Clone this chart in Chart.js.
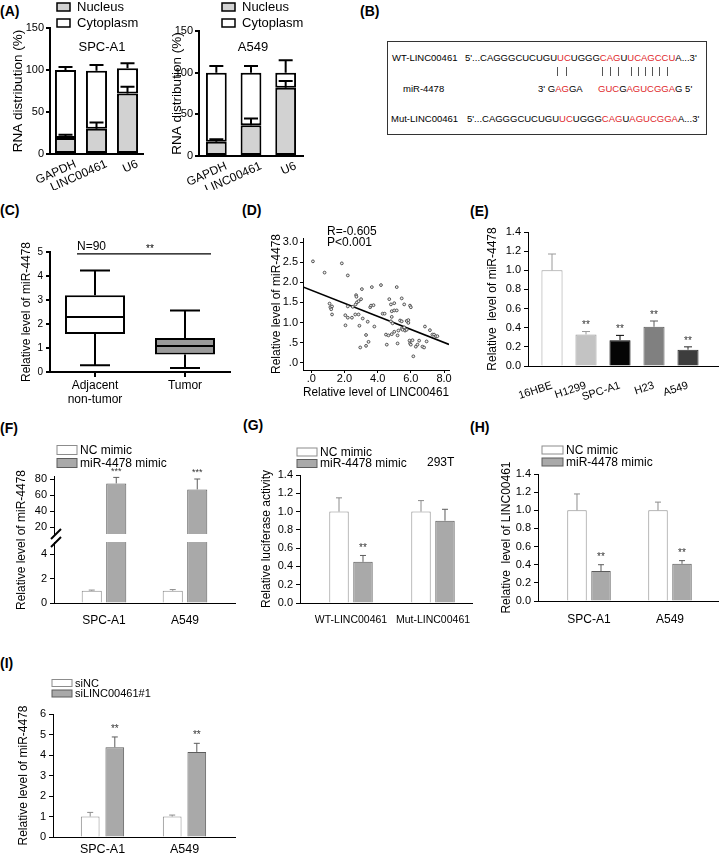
<!DOCTYPE html>
<html>
<head>
<meta charset="utf-8">
<title>LINC00461 / miR-4478</title>
<script src="https://cdn.jsdelivr.net/npm/chart.js@4.4.1/dist/chart.umd.min.js"></script>
<style>
  body { margin: 0; width: 720px; height: 853px; position: relative; overflow: hidden; background: #fff;
         font-family: "Liberation Sans", Arial, sans-serif; color: #000; }
  canvas { position: absolute; }
  .tag { position: absolute; font-size: 14px; font-weight: bold; line-height: 14px; }
  .seq { position: absolute; font-size: 9.5px; line-height: 12px; white-space: nowrap; }
  .pair { position: absolute; width: 1px; height: 9px; top: 67px; background: #555; }
  .r { color: #e0262b; }
  #seqbox { position: absolute; left: 387px; top: 41px; width: 318px; height: 92px; border: 1.5px solid #333; }
</style>
</head>
<body>
<div class="tag" style="left:0;top:4px">(A)</div>
<div class="tag" style="left:360px;top:4px">(B)</div>
<div class="tag" style="left:0;top:203px">(C)</div>
<div class="tag" style="left:242px;top:203px">(D)</div>
<div class="tag" style="left:470px;top:204px">(E)</div>
<div class="tag" style="left:0;top:421px">(F)</div>
<div class="tag" style="left:243px;top:418px">(G)</div>
<div class="tag" style="left:470px;top:420px">(H)</div>
<div class="tag" style="left:0;top:656px">(I)</div>

<div id="seqbox"></div>
<div class="seq" style="left:392px;top:52px">WT-LINC00461</div>
<div class="seq" style="left:465px;top:52px">5'...CAGGGCUCUGU<span class="r">UC</span>UGGG<span class="r">CAG</span>U<span class="r">UCAGCCU</span>A...3'</div>
<div class="seq" style="left:403px;top:83px">miR-4478</div>
<div class="seq" style="left:538px;top:83px">3' G<span class="r">AG</span>GA</div>
<div class="seq" style="left:598px;top:83px"><span class="r">GUC</span>G<span class="r">AGUCGGA</span>G 5'</div>
<div class="seq" style="left:391px;top:113px">Mut-LINC00461</div>
<div class="seq" style="left:467px;top:113px">5'...CAGGGCUCUGU<span class="r">UC</span>UGGG<span class="r">CAG</span>U<span class="r">AGUCGGA</span>A...3'</div>

<script>
// ---------- data ----------
const aGenes = ['GAPDH', 'LINC00461', 'U6'];
const aSpcNucleus = [19, 30, 72];
const aSpcNucleusSd = [4, 7.5, 8];
const aSpcCytoplasm = [81, 69, 30];
const aSpcCytoplasmSd = [3.5, 7, 6];
const aA549Nucleus = [17, 37, 82];
const aA549NucleusSd = [3, 8, 8];
const aA549Cytoplasm = [83, 63, 18];
const aA549CytoplasmSd = [8, 8, 15];
const aTicks = [0, 50, 100, 150];

const cGroups = [['Adjacent', 'non-tumor'], 'Tumor'];
const cLow = [0.28, 0.17];
const cQ1 = [1.58, 0.73];
const cMedian = [2.29, 1.08];
const cQ3 = [3.2, 1.42];
const cHigh = [4.23, 2.56];
const cSigLevel = 4.92;
const cTicks = [0, 1, 2, 3, 4, 5];

const dLinc = [0.1, 0.8, 1.84, 2.2, 3.05, 3.65, 4.2, 5.15, 1.1, 1.15,
  1.2, 1.25, 1.25, 2.05, 2.2, 2.06, 2.45, 2.65, 2.85, 2.67,
  2.7, 2.72, 2.75, 2.85, 3.0, 2.5, 2.2, 2.9, 3.1, 2.95,
  3.3, 3.45, 3.3, 3.4, 3.55, 3.6, 3.75, 3.8, 4.3, 4.42,
  4.5, 4.65, 4.55, 4.7, 4.8, 5.0, 4.85, 5.0, 5.15, 4.85,
  4.8, 4.9, 5.0, 4.85, 5.2, 5.25, 5.2, 5.35, 5.45, 5.45,
  5.5, 5.65, 5.75, 5.6, 5.45, 5.6, 5.75, 5.85, 5.95, 6.0,
  5.85, 5.92, 5.95, 6.0, 6.1, 6.15, 6.3, 6.4, 6.5, 6.7,
  6.8, 6.85, 6.95, 7.15, 7.3, 7.4, 7.5, 7.6];
const dMir = [2.52, 2.24, 2.47, 2.17, 1.83, 1.88, 1.93, 1.88, 1.47, 1.38,
  1.33, 1.4, 1.2, 1.18, 1.12, 0.93, 1.12, 1.2, 1.2, 1.45,
  1.68, 1.64, 1.5, 1.53, 1.58, 1.39, 1.4, 0.92, 1.1, 0.38,
  0.42, 0.52, 0.69, 1.02, 1.38, 1.42, 1.43, 0.9, 1.22, 1.22,
  0.7, 0.68, 0.45, 1.58, 1.45, 1.48, 1.28, 1.3, 1.3, 1.14,
  1.03, 0.98, 0.77, 0.71, 0.68, 0.8, 0.48, 1.05, 1.03, 0.85,
  0.82, 0.8, 0.82, 0.88, 1.6, 1.45, 1.04, 1.06, 1.42, 1.38,
  0.99, 0.55, 0.48, 0.45, 0.56, 0.16, 0.4, 0.45, 0.55, 0.4,
  0.38, 0.9, 0.53, 0.81, 0.7, 0.7, 0.66, 0.66];
const dFitIntercept = 1.80;
const dFitSlope = -0.162;
const dXTicks = [0, 2, 4, 6, 8];
const dYTicks = [0, 0.5, 1, 1.5, 2, 2.5, 3];

const eCells = ['16HBE', 'H1299', 'SPC-A1', 'H23', 'A549'];
const eLevel = [1.0, 0.33, 0.27, 0.41, 0.17];
const eSd = [0.17, 0.03, 0.05, 0.06, 0.03];
const eStars = ['', '**', '**', '**', '**'];

const unitTicks = [0, 0.2, 0.4, 0.6, 0.8, 1.0, 1.2, 1.4];

const fCells = ['SPC-A1', 'A549'];
const fNC = [1.0, 1.0];
const fNCSd = [0.06, 0.1];
const fMimic = [74.5, 67];
const fMimicSd = [7.5, 13];
const fStars = ['***', '***'];
const fLowTicks = [0, 2, 4];
const fHighTicks = [20, 40, 60, 80];

const gReporters = ['WT-LINC00461', 'Mut-LINC00461'];
const gNC = [1.0, 1.0];
const gNCSd = [0.15, 0.12];
const gMimic = [0.45, 0.9];
const gMimicSd = [0.07, 0.125];
const gStars = ['**', ''];

const hCells = ['SPC-A1', 'A549'];
const hNC = [1.0, 1.0];
const hNCSd = [0.18, 0.09];
const hMimic = [0.33, 0.41];
const hMimicSd = [0.07, 0.035];
const hStars = ['**', '**'];

const iCells = ['SPC-A1', 'A549'];
const iNC = [1.0, 1.0];
const iNCSd = [0.2, 0.07];
const iSi = [4.38, 4.15];
const iSiSd = [0.5, 0.42];
const iStars = ['**', '**'];
const iTicks = [0, 1, 2, 3, 4, 5, 6];

// ---------- setup ----------
const FONT = '"Liberation Sans", Arial, Helvetica, sans-serif';
Chart.defaults.font.family = FONT;
Chart.defaults.color = '#000';
Chart.defaults.animation = false;
Chart.defaults.responsive = false;
Chart.defaults.devicePixelRatio = 1;
Chart.defaults.events = [];
Chart.defaults.plugins.legend.display = false;
Chart.defaults.plugins.tooltip.enabled = false;

const WHITE = {fill: '#ffffff', edge: '#8c8c8c'};
const GRAY = {fill: '#a9a9a9', edge: '#5c5c5c'};

// base pairing ticks in panel B
[557, 566, 602, 610, 618, 631, 638, 645, 652, 659, 667].forEach(x => {
  const s = document.createElement('div');
  s.className = 'pair'; s.style.left = x + 'px';
  document.body.appendChild(s);
});

function canvasAt(id, box) {
  const c = document.createElement('canvas');
  c.id = id; c.width = box.w; c.height = box.h;
  c.style.left = box.x + 'px'; c.style.top = box.y + 'px';
  document.body.appendChild(c);
  return c;
}
function offs(chart) {
  return [parseFloat(chart.canvas.style.left), parseFloat(chart.canvas.style.top)];
}
function pad(box, plot) {
  return {left: 0, top: plot.t - box.y, right: box.x + box.w - plot.r, bottom: 0};
}

function yAxis(box, plot, o) {
  const lw = o.lw || 1, tfs = o.tfs || 12;
  return {
    min: o.min, max: o.max,
    afterFit: s => { s.width = plot.l - box.x; s.paddingTop = 0; s.paddingBottom = 0; },
    afterBuildTicks: s => { s.ticks = o.ticks.map(v => ({value: v})); },
    border: {color: '#000', width: lw},
    grid: {drawOnChartArea: false, color: '#000', lineWidth: lw, tickLength: o.tl || 4},
    ticks: {autoSkip: false, font: {size: o.fs || 11}, color: '#000', padding: o.tp == null ? 3 : o.tp,
            callback: o.fmt || (v => v)},
    title: o.title ? {display: true, text: o.title, color: '#000', font: {size: tfs},
                      padding: {top: o.tx - box.x - tfs * 0.6, bottom: 0}} : {display: false}
  };
}

function xCat(box, plot, o) {
  const lw = o.lw || 1;
  return {
    type: 'category', offset: true,
    afterFit: s => { s.height = box.y + box.h - plot.b; s.paddingLeft = 0; s.paddingRight = 0; },
    border: {color: '#000', width: lw},
    grid: o.tick ? {display: true, drawOnChartArea: false, offset: false, color: '#000', lineWidth: lw, tickLength: o.tick}
                 : {display: false},
    ticks: {autoSkip: false, font: {size: o.fs || 12}, color: '#000', padding: o.pad || 0,
            minRotation: o.rot || 0, maxRotation: o.rot || 0, labelOffset: o.lo || 0}
  };
}

function xBars(box, plot, cats, c1, step, o) {
  const min = 1 - (c1 - plot.l) / step;
  return {
    type: 'linear', offset: false, min: min, max: min + (plot.r - plot.l) / step,
    afterBuildTicks: s => { s.ticks = cats.map((c, i) => ({value: i + 1})); },
    afterFit: s => { s.height = box.y + box.h - plot.b; s.paddingLeft = 0; s.paddingRight = 0; },
    border: {color: '#000', width: 1},
    grid: {display: false},
    ticks: {autoSkip: false, font: {size: o.fs || 12}, color: '#000', padding: o.pad || 0,
            minRotation: o.rot || 0, maxRotation: o.rot || 0, callback: (v, i) => cats[i]}
  };
}

function bars(label, values, sd, stars, st, cp, bp) {
  return {label, data: values.map((v, i) => ({x: i + 1, y: v})), errors: sd, stars,
          backgroundColor: st.fill, borderColor: st.edge, borderWidth: 1, borderSkipped: 'start',
          categoryPercentage: cp, barPercentage: bp};
}

// ---------- plugins ----------
function errorBars(o) {
  return {id: 'errorBars', afterDatasetsDraw(chart) {
    const ctx = chart.ctx;
    chart.data.datasets.forEach((ds, di) => {
      if (!ds.errors) return;
      const meta = chart.getDatasetMeta(di);
      const ys = chart.scales[meta.yAxisID];
      meta.data.forEach((bar, i) => {
        const raw = ds.data[i];
        const v = raw !== null && typeof raw === 'object' && !Array.isArray(raw) ? raw.y : raw;
        const e = ds.errors[i];
        if (e == null || v == null) return;
        const top = ys.getValueForPixel(bar.y);
        if (top > ys.max + 1e-6) return;
        const yE = ys.getPixelForValue(top + e);
        const col = ds.errColor || ds.borderColor;
        ctx.save();
        ctx.strokeStyle = Array.isArray(col) ? col[i] : col;
        ctx.lineWidth = o.lw || 1;
        ctx.beginPath();
        ctx.moveTo(bar.x, bar.y); ctx.lineTo(bar.x, yE);
        ctx.moveTo(bar.x - o.cap, yE); ctx.lineTo(bar.x + o.cap, yE);
        ctx.stroke();
        if (ds.stars && ds.stars[i]) {
          ctx.fillStyle = '#333';
          ctx.font = (o.starFs || 10) + 'px ' + FONT;
          ctx.textAlign = 'center'; ctx.textBaseline = 'middle';
          ctx.fillText(ds.stars[i], bar.x, yE - (o.starGap || 6));
        }
        ctx.restore();
      });
    });
  }};
}

function legendBoxes(o) {
  return {id: 'legendBoxes', afterDraw(chart) {
    const ctx = chart.ctx, [ox, oy] = offs(chart);
    ctx.save();
    ctx.font = o.fs + 'px ' + FONT; ctx.textBaseline = 'middle'; ctx.textAlign = 'left';
    chart.data.datasets.forEach((ds, k) => {
      const x = o.x - ox, y = o.y - oy + k * o.dy;
      ctx.fillStyle = ds.backgroundColor;
      ctx.fillRect(x, y - o.h / 2, o.w, o.h);
      ctx.lineWidth = o.lw || 1; ctx.strokeStyle = o.edge || ds.borderColor;
      ctx.strokeRect(x, y - o.h / 2, o.w, o.h);
      ctx.fillStyle = '#000';
      ctx.fillText(ds.label, x + o.w + (o.gap || 3), y + 0.5);
    });
    ctx.restore();
  }};
}

function notes(items) {
  return {id: 'notes', afterDraw(chart) {
    const ctx = chart.ctx, [ox, oy] = offs(chart);
    items.forEach(it => {
      ctx.save();
      if (it.line) {
        ctx.strokeStyle = '#000'; ctx.lineWidth = it.w || 1;
        ctx.beginPath();
        ctx.moveTo(it.line[0] - ox, it.line[1] - oy); ctx.lineTo(it.line[2] - ox, it.line[3] - oy);
        ctx.stroke();
      } else {
        ctx.font = (it.fs || 12) + 'px ' + FONT; ctx.fillStyle = it.color || '#000';
        ctx.textAlign = it.align || 'left'; ctx.textBaseline = 'middle';
        ctx.translate(it.x - ox, it.y - oy);
        if (it.rot) ctx.rotate(it.rot * Math.PI / 180);
        ctx.fillText(it.t, 0, 0);
      }
      ctx.restore();
    });
  }};
}

function boxWhiskers(o) {
  return {id: 'boxWhiskers', afterDatasetsDraw(chart) {
    const ctx = chart.ctx, ys = chart.scales.y, [ox] = offs(chart);
    const ds = chart.data.datasets[0], st = ds.stats;
    ctx.save();
    ctx.strokeStyle = '#000'; ctx.lineWidth = 2;
    chart.getDatasetMeta(0).data.forEach((b, i) => {
      const hw = b.width / 2 - 1;
      const pMed = ys.getPixelForValue(st.med[i]);
      const pQ1 = ys.getPixelForValue(cQ1[i]), pQ3 = ys.getPixelForValue(cQ3[i]);
      const pLo = ys.getPixelForValue(st.low[i]), pHi = ys.getPixelForValue(st.high[i]);
      ctx.beginPath();
      ctx.moveTo(b.x - hw, pMed); ctx.lineTo(b.x + hw, pMed);
      ctx.moveTo(b.x, pQ3); ctx.lineTo(b.x, pHi);
      ctx.moveTo(b.x - o.cap, pHi); ctx.lineTo(b.x + o.cap, pHi);
      ctx.moveTo(b.x, pQ1); ctx.lineTo(b.x, pLo);
      ctx.moveTo(b.x - o.cap, pLo); ctx.lineTo(b.x + o.cap, pLo);
      ctx.stroke();
    });
    const py = ys.getPixelForValue(o.sig.v);
    ctx.lineWidth = 1.2;
    ctx.beginPath(); ctx.moveTo(o.sig.x1 - ox, py); ctx.lineTo(o.sig.x2 - ox, py); ctx.stroke();
    ctx.restore();
  }};
}

const num1 = v => Number(v).toFixed(1);
const dotFmt = v => (v < 1 ? num1(v).replace(/^0/, '') : num1(v));

// ---------- (A) ----------
function panelA(id, box, plot, nuc, nucSd, cyt, cytSd, bp, label, labelX, legendX, titleX) {
  new Chart(canvasAt(id, box), {
    type: 'bar',
    data: {labels: aGenes, datasets: [
      {label: 'Nucleus', data: nuc, errors: nucSd, backgroundColor: '#d2d2d2', borderColor: '#000',
       borderWidth: 2, borderSkipped: false, barPercentage: bp, categoryPercentage: 1},
      {label: 'Cytoplasm', data: cyt, errors: cytSd, backgroundColor: '#fff', borderColor: '#000',
       borderWidth: 2, borderSkipped: false, barPercentage: bp, categoryPercentage: 1}
    ]},
    options: {
      layout: {padding: pad(box, plot)},
      scales: {
        x: Object.assign(xCat(box, plot, {fs: 12, rot: 24, pad: -5, lo: 10, lw: 2}), {stacked: true}),
        y: Object.assign(yAxis(box, plot, {min: 0, max: 150, ticks: aTicks, lw: 2, fs: 11, tp: 2,
             title: 'RNA distribution (%)', tfs: 13.5, tx: titleX}), {stacked: true})
      }
    },
    plugins: [errorBars({lw: 2, cap: 7}),
              legendBoxes({x: legendX, y: 7, dy: 16, w: 13, h: 8, fs: 13, lw: 1.5, edge: '#000', gap: 7}),
              notes([{t: label, x: labelX, y: 47, fs: 13, align: 'center'}])]
  });
}
panelA('a1', {x: 0, y: 0, w: 150, h: 190}, {l: 50, t: 28, r: 143, b: 154},
       aSpcNucleus, aSpcNucleusSd, aSpcCytoplasm, aSpcCytoplasmSd, 0.68, 'SPC-A1', 102, 57, 18);
panelA('a2', {x: 150, y: 0, w: 170, h: 190}, {l: 199, t: 31, r: 303, b: 156},
       aA549Nucleus, aA549NucleusSd, aA549Cytoplasm, aA549CytoplasmSd, 0.6, 'A549', 253, 222, 177);

// ---------- (C) ----------
const cBox = {x: 0, y: 190, w: 240, h: 220}, cPlot = {l: 50, t: 252, r: 230, b: 372};
new Chart(canvasAt('c', cBox), {
  type: 'bar',
  data: {labels: cGroups, datasets: [{
    data: cQ1.map((q, i) => [q, cQ3[i]]), stats: {low: cLow, med: cMedian, high: cHigh},
    backgroundColor: ['#fff', '#9a9a9a'], borderColor: '#000', borderWidth: 2, borderSkipped: false,
    barPercentage: 0.667, categoryPercentage: 1}]},
  options: {
    layout: {padding: pad(cBox, cPlot)},
    scales: {
      x: xCat(cBox, cPlot, {fs: 12, tick: 5, lw: 2, pad: 1}),
      y: yAxis(cBox, cPlot, {min: 0, max: 5, ticks: cTicks, lw: 2, fs: 10,
           title: 'Relative level of miR-4478', tx: 27})
    }
  },
  plugins: [boxWhiskers({cap: 15, sig: {v: cSigLevel, x1: 77, x2: 211}}),
            notes([{t: 'N=90', x: 77, y: 247, fs: 12}, {t: '**', x: 150, y: 249, fs: 10, align: 'center'}])]
});

// ---------- (D) ----------
const dBox = {x: 240, y: 190, w: 230, h: 210}, dPlot = {l: 303, t: 238, r: 449, b: 370};
const dXMin = -0.5, dXMax = 8.3;
new Chart(canvasAt('d', dBox), {
  type: 'scatter',
  data: {datasets: [
    {data: dLinc.map((x, i) => ({x, y: dMir[i]})), pointRadius: 1.4, pointBackgroundColor: '#eee',
     pointBorderColor: '#444', pointBorderWidth: 0.9},
    {type: 'line', data: [dXMin, dXMax].map(x => ({x, y: dFitIntercept + dFitSlope * x})),
     borderColor: '#000', borderWidth: 1.5, pointRadius: 0}
  ]},
  options: {
    layout: {padding: pad(dBox, dPlot)},
    scales: {
      x: {type: 'linear', min: dXMin, max: dXMax,
          afterBuildTicks: s => { s.ticks = dXTicks.map(v => ({value: v})); },
          afterFit: s => { s.height = dBox.y + dBox.h - dPlot.b; s.paddingLeft = 0; s.paddingRight = 0; },
          border: {color: '#000', width: 1},
          grid: {drawOnChartArea: false, color: '#000', tickLength: 3},
          ticks: {autoSkip: false, font: {size: 11}, color: '#000', padding: -1, callback: dotFmt},
          title: {display: true, text: 'Relative level of LINC00461', font: {size: 12}, color: '#000',
                  padding: {top: 0, bottom: 0}}},
      y: yAxis(dBox, dPlot, {min: -0.18, max: 3.1, ticks: dYTicks, fs: 11, fmt: dotFmt, tl: 3, tp: 2,
           title: 'Relative level of miR-4478', tx: 277})
    }
  },
  plugins: [notes([{t: 'R=-0.605', x: 327, y: 232, fs: 12}, {t: 'P<0.001', x: 327, y: 243, fs: 12}])]
});

// ---------- (E) ----------
const eBox = {x: 470, y: 190, w: 250, h: 210}, ePlot = {l: 528, t: 232, r: 718, b: 366};
new Chart(canvasAt('e', eBox), {
  type: 'bar',
  data: {datasets: [{
    data: eLevel.map((v, i) => ({x: i + 1, y: v})), errors: eSd, stars: eStars,
    backgroundColor: ['#ffffff', '#c3c3c3', '#050505', '#808080', '#3d3d3d'],
    borderColor: ['#9a9a9a', '#9a9a9a', '#000000', '#5a5a5a', '#2a2a2a'],
    borderWidth: 1, borderSkipped: 'start', categoryPercentage: 1, barPercentage: 0.62}]},
  options: {
    layout: {padding: pad(eBox, ePlot)},
    scales: {
      x: xBars(eBox, ePlot, eCells, 552, 34, {fs: 11, rot: 18, pad: 5}),
      y: yAxis(eBox, ePlot, {min: 0, max: 1.4, ticks: unitTicks, fs: 11, fmt: num1,
           title: 'Relative  level of miR-4478', tx: 493})
    }
  },
  plugins: [errorBars({lw: 1, cap: 4, starFs: 10, starGap: 6})]
});

// ---------- (F) broken axis: lower and upper segments ----------
const fLowBox = {x: 0, y: 430, w: 240, h: 210}, fLowPlot = {l: 54, t: 542, r: 235, b: 603};
new Chart(canvasAt('fLow', fLowBox), {
  type: 'bar',
  data: {datasets: [bars('NC mimic', fNC, fNCSd, null, WHITE, 0.605, 0.82),
                    bars('miR-4478 mimic', fMimic, fMimicSd, null, GRAY, 0.605, 0.82)]},
  options: {
    layout: {padding: pad(fLowBox, fLowPlot)},
    scales: {
      x: xBars(fLowBox, fLowPlot, fCells, 104, 81, {fs: 12, pad: 2}),
      y: yAxis(fLowBox, fLowPlot, {min: 0, max: 5, ticks: fLowTicks, fs: 11})
    }
  },
  plugins: [errorBars({lw: 1, cap: 3}),
            notes([{t: 'Relative level of miR-4478', x: 22, y: 540, fs: 12, rot: -90, align: 'center'},
                   {line: [51, 539, 61, 529], w: 2}, {line: [51, 547, 61, 537], w: 2}])]
});
const fHighMin = 11.25;
const fHighBox = {x: 0, y: 430, w: 240, h: 106}, fHighPlot = {l: 54, t: 476, r: 235, b: 534};
new Chart(canvasAt('fHigh', fHighBox), {
  type: 'bar',
  data: {datasets: [bars('NC mimic', fNC.map(v => (v > fHighMin ? v : null)), fNCSd, null, WHITE, 0.605, 0.82),
                    bars('miR-4478 mimic', fMimic.map(v => (v > fHighMin ? v : null)), fMimicSd, fStars, GRAY, 0.605, 0.82)]},
  options: {
    layout: {padding: pad(fHighBox, fHighPlot)},
    scales: {
      x: Object.assign(xBars(fHighBox, fHighPlot, fCells, 104, 81, {}), {display: false}),
      y: yAxis(fHighBox, fHighPlot, {min: fHighMin, max: 83.75, ticks: fHighTicks, fs: 11})
    }
  },
  plugins: [errorBars({lw: 1, cap: 3, starFs: 9, starGap: 6}),
            legendBoxes({x: 57, y: 450, dy: 13, w: 20, h: 9, fs: 12})]
});

// ---------- (G) ----------
const gBox = {x: 240, y: 430, w: 240, h: 210}, gPlot = {l: 300, t: 475, r: 472, b: 603};
new Chart(canvasAt('g', gBox), {
  type: 'bar',
  data: {datasets: [bars('NC mimic', gNC, gNCSd, null, WHITE, 0.585, 0.81),
                    bars('miR-4478 mimic', gMimic, gMimicSd, gStars, GRAY, 0.585, 0.81)]},
  options: {
    layout: {padding: pad(gBox, gPlot)},
    scales: {
      x: xBars(gBox, gPlot, gReporters, 351, 82, {fs: 10.5, pad: 3}),
      y: yAxis(gBox, gPlot, {min: 0, max: 1.4, ticks: unitTicks, fs: 11, fmt: num1,
           title: 'Relative luciferase activity', tx: 267})
    }
  },
  plugins: [errorBars({lw: 1, cap: 3, starFs: 10, starGap: 7}),
            legendBoxes({x: 297, y: 452, dy: 11.5, w: 20, h: 8, fs: 12}),
            notes([{t: '293T', x: 427, y: 463, fs: 12}])]
});

// ---------- (H) ----------
const hBox = {x: 470, y: 430, w: 250, h: 210}, hPlot = {l: 538, t: 474, r: 718, b: 601};
new Chart(canvasAt('h', hBox), {
  type: 'bar',
  data: {datasets: [bars('NC mimic', hNC, hNCSd, null, WHITE, 0.593, 0.81),
                    bars('miR-4478 mimic', hMimic, hMimicSd, hStars, GRAY, 0.593, 0.81)]},
  options: {
    layout: {padding: pad(hBox, hPlot)},
    scales: {
      x: xBars(hBox, hPlot, hCells, 589, 81, {fs: 12, pad: 3}),
      y: yAxis(hBox, hPlot, {min: 0, max: 1.4, ticks: unitTicks, fs: 11, fmt: num1,
           title: 'Relative  level of LINC00461', tx: 507})
    }
  },
  plugins: [errorBars({lw: 1, cap: 3, starFs: 10, starGap: 7}),
            legendBoxes({x: 542, y: 450, dy: 12, w: 21, h: 8, fs: 12})]
});

// ---------- (I) ----------
const iBox = {x: 0, y: 650, w: 240, h: 203}, iPlot = {l: 53, t: 714, r: 235, b: 837};
new Chart(canvasAt('i', iBox), {
  type: 'bar',
  data: {datasets: [bars('siNC', iNC, iNCSd, null, WHITE, 0.6, 0.76),
                    bars('siLINC00461#1', iSi, iSiSd, iStars, GRAY, 0.6, 0.76)]},
  options: {
    layout: {padding: pad(iBox, iPlot)},
    scales: {
      x: xBars(iBox, iPlot, iCells, 102.5, 82, {fs: 12.5, pad: -3}),
      y: yAxis(iBox, iPlot, {min: 0, max: 6, ticks: iTicks, fs: 11,
           title: 'Relative level of miR-4478', tx: 24})
    }
  },
  plugins: [errorBars({lw: 1, cap: 3, starFs: 10, starGap: 8}),
            legendBoxes({x: 52, y: 683, dy: 10.5, w: 20, h: 7, fs: 11})]
});
</script>
</body>
</html>
